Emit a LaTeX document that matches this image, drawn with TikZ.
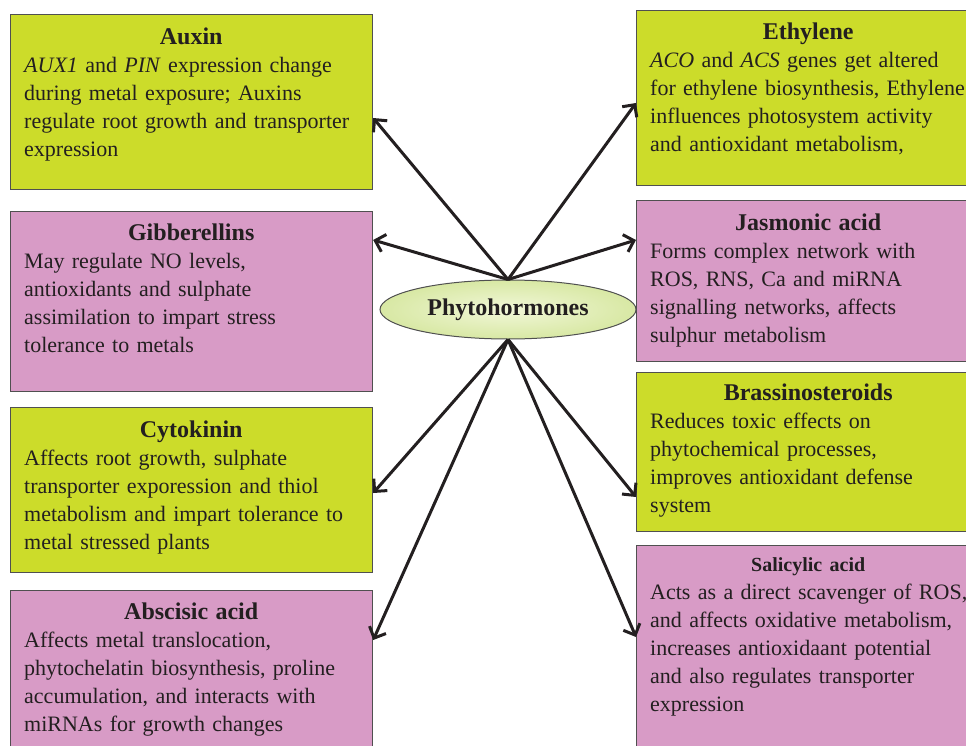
\documentclass[tikz,border=0pt]{standalone}
\usepackage{fontspec}
\setmainfont{Liberation Serif}
\usetikzlibrary{arrows.meta,shapes.geometric}
\definecolor{hgreen}{HTML}{CCDC2A}
\definecolor{hpink}{HTML}{D89BC6}
\definecolor{hedge}{HTML}{505050}
\definecolor{htext}{HTML}{231F20}
\definecolor{hovalin}{HTML}{F1F7D8}
\definecolor{hovalout}{HTML}{D8E8A4}
\newcommand{\headtext}{\fontsize{24}{28}\selectfont\bfseries}
\begin{document}
\begin{tikzpicture}[x=1pt,y=-1pt,
  box/.style={draw=hedge,line width=1.2pt,anchor=north west,inner sep=0pt},
  greenbox/.style={box,fill=hgreen},
  pinkbox/.style={box,fill=hpink},
  info/.style={anchor=north west,inner sep=0pt,text=htext,font=\fontsize{22}{28}\selectfont},
  link/.style={-{Straight Barb[length=9pt,width=18pt]},line width=3pt,draw=htext}]
\useasboundingbox (0,0) rectangle (966,746);
% left column
\node[greenbox,minimum width=362pt,minimum height=175pt] (auxin) at (10,14) {};
\node[pinkbox,minimum width=362pt,minimum height=180pt] (gib) at (10,211) {};
\node[greenbox,minimum width=362pt,minimum height=165pt] (cyto) at (10,407) {};
\node[pinkbox,minimum width=362pt,minimum height=170pt] (aba) at (10,590) {};
% right column
\node[greenbox,minimum width=344pt,minimum height=175pt] (eth) at (636,10) {};
\node[pinkbox,minimum width=344pt,minimum height=161pt] (ja) at (636,200) {};
\node[greenbox,minimum width=344pt,minimum height=159pt] (br) at (636,372) {};
\node[pinkbox,minimum width=344pt,minimum height=215pt] (sa) at (636,545) {};
% texts
\node[info,text width=334pt] (auxintxt) at (24,28) {{\centering\headtext Auxin\par}\raggedright
  \textit{AUX1} and \textit{PIN} expression change\\during metal exposure; Auxins\\regulate root growth and transporter\\expression};
\node[info,text width=334pt] (gibtxt) at (24,224) {{\centering\headtext Gibberellins\par}\raggedright
  May regulate NO levels,\\antioxidants and sulphate\\assimilation to impart stress\\tolerance to metals};
\node[info,text width=334pt] (cytotxt) at (24,421) {{\centering\headtext Cytokinin\par}\raggedright
  Affects root growth, sulphate\\transporter exporession and thiol\\metabolism and impart tolerance to\\metal stressed plants};
\node[info,text width=334pt] (abatxt) at (24,603) {{\centering\headtext Abscisic acid\par}\raggedright
  Affects metal translocation,\\phytochelatin biosynthesis, proline\\accumulation, and interacts with\\miRNAs for growth changes};
\node[info,text width=316pt] (ethtxt) at (650,23) {{\centering\headtext Ethylene\par}\raggedright
  \textit{ACO} and \textit{ACS} genes get altered\\\mbox{for ethylene biosynthesis, Ethylene}\\influences photosystem activity\\and antioxidant metabolism,};
\node[info,text width=316pt] (jatxt) at (650,214) {{\centering\headtext Jasmonic acid\par}\raggedright
  Forms complex network with\\ROS, RNS, Ca and miRNA\\signalling networks, affects\\sulphur metabolism};
\node[info,text width=316pt] (brtxt) at (650,384) {{\centering\headtext Brassinosteroids\par}\raggedright
  Reduces toxic effects on\\phytochemical processes,\\improves antioxidant defense\\system};
\node[info,text width=316pt] (satxt) at (650,557) {{\centering\fontsize{20}{28}\selectfont\bfseries Salicylic acid\par}\raggedright
  \mbox{Acts as a direct scavenger of ROS,}\\\mbox{and affects oxidative metabolism,}\\increases antioxidaant potential\\and also regulates transporter\\expression};
% centre
\node[ellipse,draw=hedge,line width=1pt,minimum width=256pt,minimum height=59pt,
  inner color=hovalin,outer color=hovalout,text=htext,font=\headtext] (ph) at (508,309.5) {Phytohormones};
% arrows
\draw[link] (ph.north) -- (auxin.east |- 0,118);
\draw[link] (ph.north) -- (gib.east |- 0,240);
\draw[link] (ph.north) -- (eth.west |- 0,103);
\draw[link] (ph.north) -- (ja.west |- 0,240);
\draw[link] (ph.south) -- (cyto.east |- 0,493);
\draw[link] (ph.south) -- (aba.east |- 0,640);
\draw[link] (ph.south) -- (br.west |- 0,497);
\draw[link] (ph.south) -- (sa.west |- 0,637);
\end{tikzpicture}
\end{document}
